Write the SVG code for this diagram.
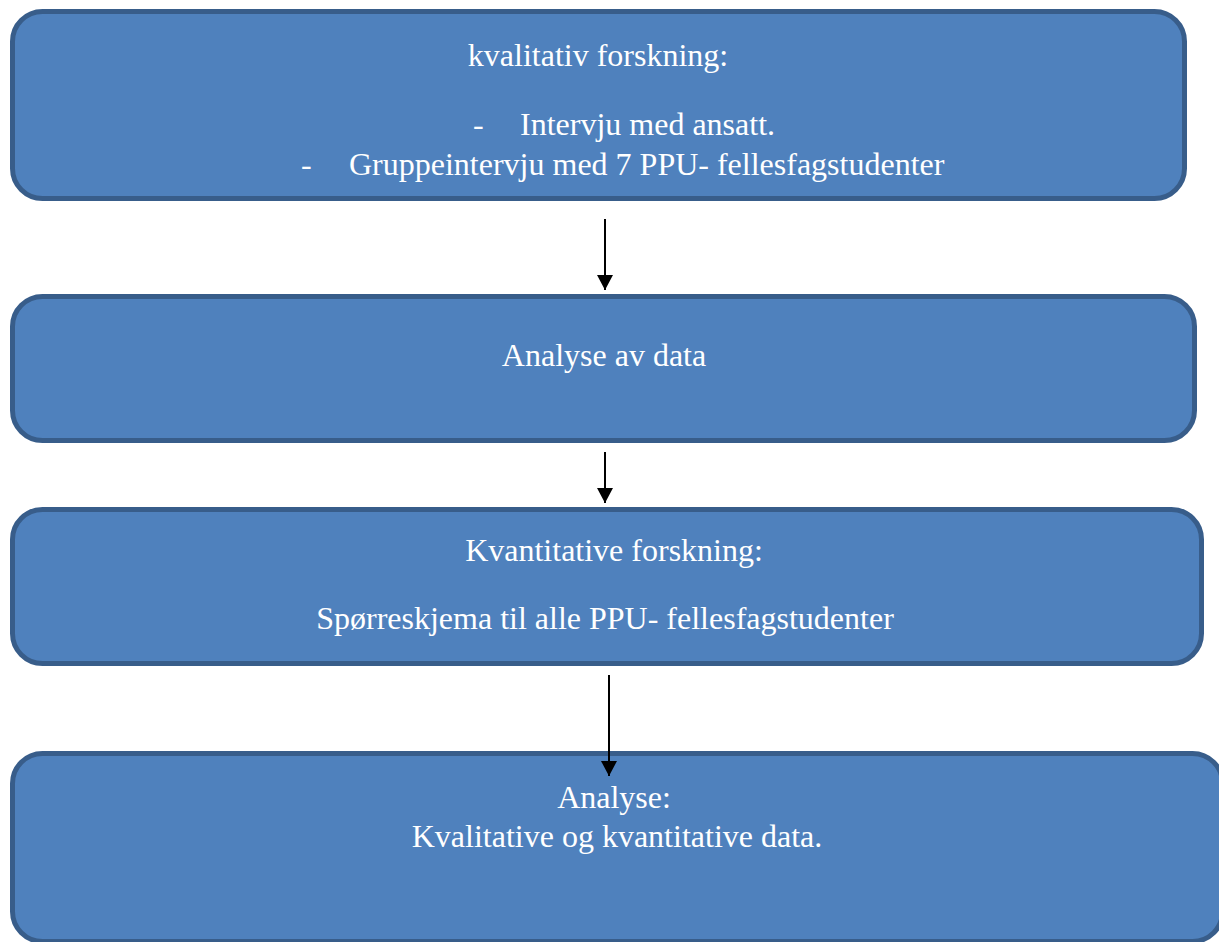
<svg xmlns="http://www.w3.org/2000/svg" width="1219" height="942" viewBox="0 0 1219 942">
<style>
.box{fill:#4f81bd;stroke:#385d8a;stroke-width:5}
.t{font-family:"Liberation Serif","Times New Roman",serif;font-size:32px;fill:#ffffff}
.c{text-anchor:middle}
.conn{stroke:#000;stroke-width:2;fill:none}
</style>
<defs>
<marker id="arr" markerUnits="userSpaceOnUse" markerWidth="15" markerHeight="16" viewBox="0 -8 15 16" refX="15" refY="0" orient="auto">
<path d="M0,-8 L15,0 L0,8 z" fill="#000"/>
</marker>
</defs>
<rect width="1219" height="942" fill="#ffffff"/>
<g id="node1">
<rect class="box" x="12.5" y="11.5" width="1172" height="187" rx="30" ry="30"/>
<text class="t c" x="598" y="66">kvalitativ forskning:</text>
<text class="t" x="473" y="135">-</text>
<text class="t" x="520" y="135">Intervju med ansatt.</text>
<text class="t" x="301" y="175">-</text>
<text class="t" x="349" y="175">Gruppeintervju med 7 PPU- fellesfagstudenter</text>
</g>
<g id="node2">
<rect class="box" x="12.5" y="296.5" width="1182" height="144" rx="30" ry="30"/>
<text class="t c" x="604" y="366">Analyse av data</text>
</g>
<g id="node3">
<rect class="box" x="12.5" y="509.5" width="1189" height="154" rx="30" ry="30"/>
<text class="t c" x="614" y="561">Kvantitative forskning:</text>
<text class="t c" x="605" y="629">Spørreskjema til alle PPU- fellesfagstudenter</text>
</g>
<g id="node4">
<rect class="box" x="12.5" y="753.5" width="1210" height="188" rx="30" ry="30"/>
<text class="t c" x="614" y="808">Analyse:</text>
<text class="t c" x="617" y="847">Kvalitative og kvantitative data.</text>
</g>
<g id="connectors">
<line class="conn" x1="605" y1="219" x2="605" y2="290" marker-end="url(#arr)"/>
<line class="conn" x1="605" y1="452" x2="605" y2="503" marker-end="url(#arr)"/>
<line class="conn" x1="609" y1="675" x2="609" y2="776" marker-end="url(#arr)"/>
</g>
</svg>
